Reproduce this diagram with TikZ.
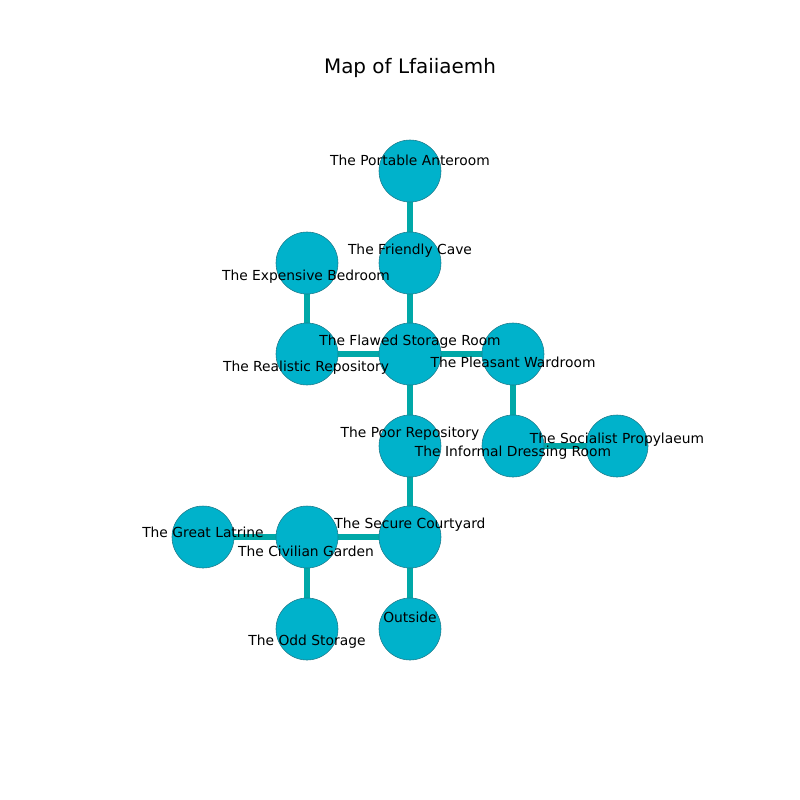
\documentclass[tikz,border=0pt]{standalone}
\usepackage{fontspec}
\setmainfont{DejaVu Sans}
\usetikzlibrary{backgrounds}
\definecolor{roomfill}{HTML}{00B2CB}
\definecolor{roomedge}{HTML}{1F7A8A}
\definecolor{passage}{HTML}{00A8A8}
\begin{document}
\begin{tikzpicture}[
		x=0.254mm, y=-0.254mm,
		room/.style={circle, draw=roomedge, line width=0.4pt, fill=roomfill, minimum size=15.75mm, inner sep=0},
		roomlabel/.style={inner sep=0, font=\fontsize{10}{12}\selectfont},
		passage/.style={draw=passage, line width=3.9pt},
	]
	\useasboundingbox (0,0) rectangle (800,800);
	\node[roomlabel, font=\fontsize{14.4}{17}\selectfont] (title) at (410,68) {Map of Lfaiiaemh};
	% rooms
	\node[room] (anteroom) at (410,171) {};
	\node[room] (cave) at (410,263) {};
	\node[room] (bedroom) at (307,263) {};
	\node[room] (storage) at (410,354) {};
	\node[room] (realistic) at (307,354) {};
	\node[room] (wardroom) at (513,354) {};
	\node[room] (poor) at (410,446) {};
	\node[room] (dressing) at (513,446) {};
	\node[room] (propylaeum) at (617,446) {};
	\node[room] (courtyard) at (410,537) {};
	\node[room] (garden) at (307,537) {};
	\node[room] (latrine) at (203,537) {};
	\node[room] (outside) at (410,629) {};
	\node[room] (odd) at (307,629) {};
	% passages
	\begin{pgfonlayer}{background}
		\draw[passage] (anteroom) -- (cave);
		\draw[passage] (cave) -- (storage);
		\draw[passage] (bedroom) -- (realistic);
		\draw[passage] (realistic) -- (storage);
		\draw[passage] (storage) -- (wardroom);
		\draw[passage] (storage) -- (poor);
		\draw[passage] (wardroom) -- (dressing);
		\draw[passage] (dressing) -- (propylaeum);
		\draw[passage] (poor) -- (courtyard);
		\draw[passage] (courtyard) -- (garden);
		\draw[passage] (garden) -- (latrine);
		\draw[passage] (garden) -- (odd);
		\draw[passage] (courtyard) -- (outside);
	\end{pgfonlayer}
	% labels
	\node[roomlabel] (anteroom-lbl) at (410,160) {The Portable Anteroom};
	\node[roomlabel] (cave-lbl) at (410,251) {The Friendly Cave};
	\node[roomlabel] (bedroom-lbl) at (306,277) {The Expensive Bedroom};
	\node[roomlabel] (storage-lbl) at (410,342) {The Flawed Storage Room};
	\node[roomlabel] (realistic-lbl) at (306,368) {The Realistic Repository};
	\node[roomlabel] (wardroom-lbl) at (513,362) {The Pleasant Wardroom};
	\node[roomlabel] (poor-lbl) at (410,434) {The Poor Repository};
	\node[roomlabel] (dressing-lbl) at (513,453) {The Informal Dressing Room};
	\node[roomlabel] (propylaeum-lbl) at (617,440) {The Socialist Propylaeum};
	\node[roomlabel] (courtyard-lbl) at (410,525) {The Secure Courtyard};
	\node[roomlabel] (garden-lbl) at (306,551) {The Civilian Garden};
	\node[roomlabel] (latrine-lbl) at (203,532) {The Great Latrine};
	\node[roomlabel] (outside-lbl) at (410,617) {Outside};
	\node[roomlabel] (odd-lbl) at (307,642) {The Odd Storage};
\end{tikzpicture}
\end{document}
